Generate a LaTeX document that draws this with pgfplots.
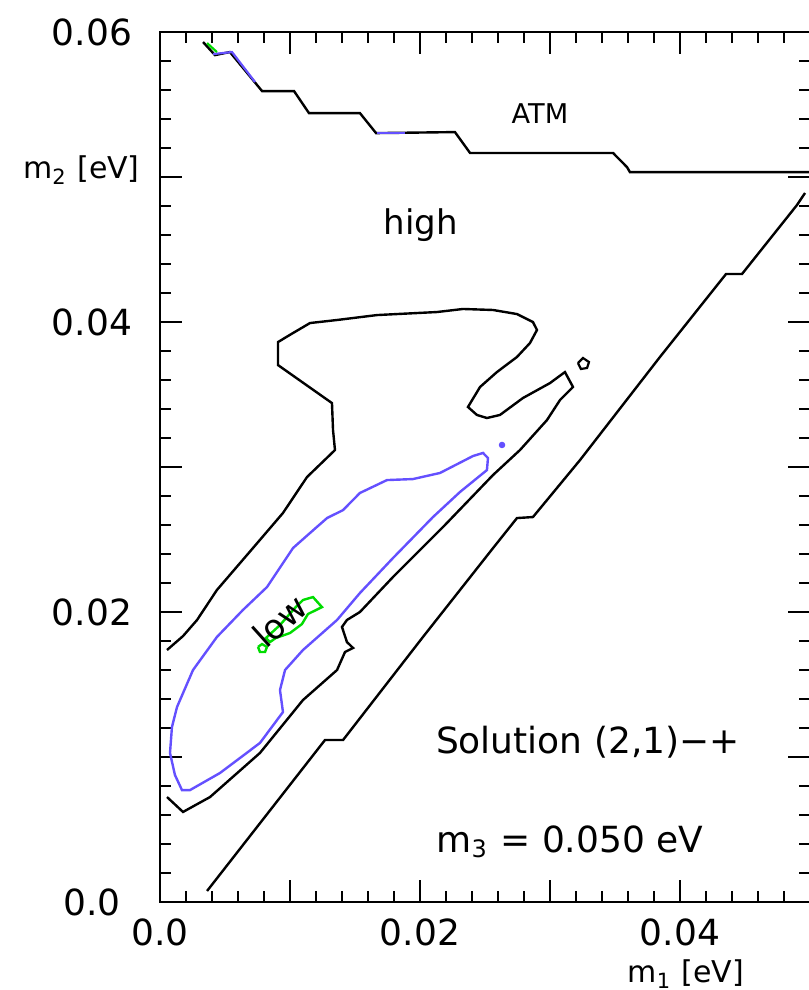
\documentclass[border=0pt]{standalone}
\usepackage{fontspec}
\setmainfont{DejaVu Sans}
\usepackage{pgfplots}
\pgfplotsset{compat=1.18}
\definecolor{cblue}{RGB}{100,80,255}
\definecolor{cgreen}{RGB}{0,220,0}
\begin{document}
\begin{tikzpicture}
\begin{axis}[
  at={(0pt,0pt)}, anchor=south west,
  scale only axis, width=162.5pt, height=217.5pt,
  xmin=0, xmax=0.05, ymin=0, ymax=0.06,
  scaled ticks=false,
  xtick={0,0.01,0.02,0.03,0.04,0.05},
  xticklabels={0.0,,0.02,,0.04,},
  ytick={0,0.01,0.02,0.03,0.04,0.05,0.06},
  yticklabels={0.0,,0.02,,0.04,,0.06},
  minor tick num=4,
  major tick length=5.5pt, minor tick length=2.75pt,
  tick style={line width=0.55pt, black},
  axis line style={line width=0.65pt},
  tick label style={font=\fontsize{9}{10}\selectfont, /pgf/number format/assume math mode=true},
  xticklabel style={anchor=north, inner sep=0pt, yshift=-4pt},
  yticklabel style={anchor=center, inner sep=0pt, xshift=-17pt},
  clip=false,
]
% ATM boundary
\addplot[black, line width=0.6pt] coordinates {
(0.00331,0.05931) (0.00423,0.05841) (0.00538,0.05862) (0.00785,0.05593)
(0.01031,0.05593) (0.01146,0.05441) (0.01538,0.05441) (0.01662,0.05303)
(0.02269,0.05310) (0.02385,0.05166) (0.03485,0.05166) (0.03592,0.05069)
(0.03615,0.05034) (0.04992,0.05034)};
\addplot[cblue, line width=0.55pt] coordinates {
(0.00408,0.05848) (0.00554,0.05862) (0.00731,0.05655)};
\addplot[cblue, line width=0.55pt] coordinates {
(0.01669,0.05303) (0.01885,0.05303)};
\addplot[cgreen, line width=0.55pt] coordinates {
(0.00362,0.05924) (0.00438,0.05862)};
% right diagonal boundary
\addplot[black, line width=0.6pt] coordinates {
(0.00362,0.00076) (0.01269,0.01117) (0.01408,0.01117) (0.02023,0.01828)
(0.02562,0.02441) (0.02746,0.02648) (0.02869,0.02655) (0.03231,0.03048)
(0.03846,0.03759) (0.04354,0.04331) (0.04477,0.04331) (0.04900,0.04807)
(0.04962,0.04890)};
% high / low boundary
\addplot[black, line width=0.6pt] coordinates {
(0.00054,0.01738) (0.00177,0.01834) (0.00285,0.01945) (0.00438,0.02152)
(0.00715,0.02441) (0.00946,0.02683) (0.01131,0.02931) (0.01346,0.03117)
(0.01331,0.03255) (0.01323,0.03441) (0.00908,0.03703) (0.00908,0.03862)
(0.01023,0.03924) (0.01154,0.03993) (0.01362,0.04014) (0.01669,0.04048)
(0.02131,0.04069) (0.02331,0.04090) (0.02562,0.04083) (0.02746,0.04055)
(0.02869,0.04000) (0.02900,0.03945) (0.02846,0.03855) (0.02746,0.03759)
(0.02592,0.03655) (0.02462,0.03552) (0.02369,0.03414) (0.02438,0.03359)
(0.02515,0.03338) (0.02615,0.03359) (0.02792,0.03476) (0.03000,0.03579)
(0.03115,0.03655) (0.03177,0.03552) (0.03077,0.03462) (0.02977,0.03324)
(0.02769,0.03117) (0.02562,0.02945) (0.02177,0.02586) (0.01792,0.02241)
(0.01538,0.02000) (0.01438,0.01945) (0.01400,0.01897) (0.01438,0.01793)
(0.01485,0.01752) (0.01423,0.01724) (0.01362,0.01600) (0.01100,0.01393)
(0.00769,0.01028) (0.00385,0.00724) (0.00177,0.00621) (0.00054,0.00724)};
\addplot[black, line width=0.55pt] coordinates {
(0.03215,0.03717) (0.03254,0.03752) (0.03300,0.03724) (0.03285,0.03683)
(0.03238,0.03676) (0.03215,0.03717)};
% blue contour
\addplot[cblue, line width=0.6pt] coordinates {
(0.00077,0.01028) (0.00115,0.00876) (0.00169,0.00772) (0.00231,0.00772)
(0.00462,0.00890) (0.00769,0.01097) (0.00946,0.01310) (0.00923,0.01462)
(0.00962,0.01600) (0.01100,0.01738) (0.01362,0.01945) (0.01538,0.02131)
(0.01792,0.02372) (0.02100,0.02655) (0.02308,0.02828) (0.02515,0.02979)
(0.02523,0.03062) (0.02485,0.03097) (0.02408,0.03076) (0.02154,0.02959)
(0.01946,0.02917) (0.01746,0.02910) (0.01538,0.02821) (0.01408,0.02703)
(0.01285,0.02648) (0.01154,0.02545) (0.01023,0.02441) (0.00823,0.02172)
(0.00638,0.02014) (0.00438,0.01828) (0.00254,0.01600) (0.00131,0.01345)
(0.00092,0.01207) (0.00077,0.01028)};
\addplot[cblue, only marks, mark=*, mark size=0.6pt] coordinates {(0.02631,0.03152)};
% green contour
\addplot[cgreen, line width=0.6pt] coordinates {
(0.01100,0.02083) (0.01177,0.02103) (0.01246,0.02034) (0.01138,0.01986)
(0.01092,0.01917) (0.01000,0.01855) (0.00892,0.01821) (0.00846,0.01793)
(0.00815,0.01821) (0.00923,0.01910) (0.01038,0.02028) (0.01100,0.02083)};
\addplot[cgreen, line width=0.6pt] coordinates {
(0.00754,0.01759) (0.00785,0.01779) (0.00823,0.01759) (0.00808,0.01724)
(0.00769,0.01724) (0.00754,0.01759)};
% labels
\node[font=\fontsize{6.8}{8}\selectfont] at (axis cs:0.02923,0.05441) {ATM};
\node[font=\fontsize{8.5}{10}\selectfont] at (axis cs:0.02008,0.04669) {high};
\node[font=\fontsize{8.5}{10}\selectfont, rotate=42] at (axis cs:0.00923,0.01938) {low};
\node[font=\fontsize{9}{11}\selectfont] at (axis cs:0.03292,0.01103) {Solution (2,1)−+};
\node[font=\fontsize{9}{11}\selectfont] at (axis cs:0.03154,0.00414) {m\textsubscript{3} = 0.050 eV};
\node[font=\fontsize{7.5}{9}\selectfont, anchor=east, inner sep=0pt] at (axis cs:-0.0015,0.0505) {m\textsubscript{2} [eV]};
\node[font=\fontsize{7.5}{9}\selectfont] at (axis cs:0.04046,-0.00497) {m\textsubscript{1} [eV]};
\end{axis}
\pgfresetboundingbox
\path[use as bounding box] (-40pt,-22pt) rectangle (162.25pt,225.5pt);
\end{tikzpicture}
\end{document}
